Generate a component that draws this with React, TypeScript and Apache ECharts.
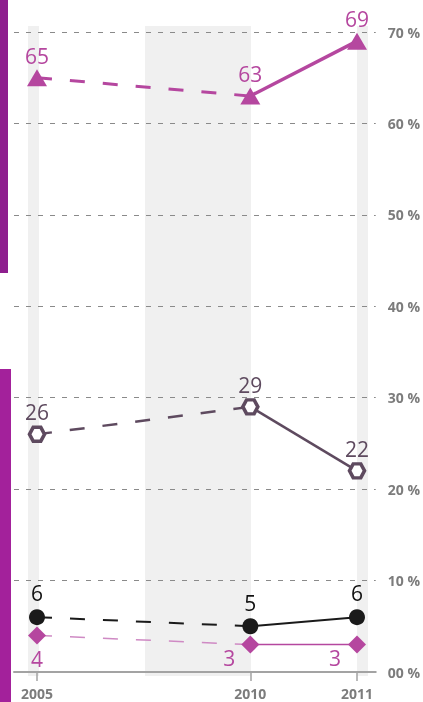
import React, { useEffect, useRef } from 'react';
import * as echarts from 'echarts';

// x slots: the blank slot is the unlabeled gap between 2005 and 2010
const yearSlots = ['2005', '', '2010', '2011'];
const pctMin = 0;
const pctMax = 70;
const pctStep = 10;

const triangleSeries = [65, 63, 69];
const hexagonSeries = [26, 29, 22];
const circleSeries = [6, 5, 6];
const diamondSeries = [4, 3, 3];

const toDashed = (v: number[]) => [v[0], '-', v[1], '-'];
const toSolid = (v: number[]) => ['-', '-', v[1], v[2]];
const toPoints = (v: number[]) => [v[0], '-', v[1], v[2]];

export default function App() {
  const ref = useRef<HTMLDivElement>(null);

  useEffect(() => {
    const chart = echarts.init(ref.current!, null, { renderer: 'svg' });
    const font = "'Open Sans', 'Noto Sans', sans-serif";
    const dash = [15, 18];
    const hex = 'path://M1,0 L3,0 L4,1.732 L3,3.464 L1,3.464 L0,1.732 Z';

    const lines = (vals: number[], color: string, width: number, dashColor: string, dashWidth: number) => [
      {
        type: 'line', xAxisIndex: 1, yAxisIndex: 1, data: toDashed(vals), connectNulls: true,
        symbol: 'none', lineStyle: { color: dashColor, width: dashWidth, type: dash }, z: 3,
      },
      {
        type: 'line', xAxisIndex: 1, yAxisIndex: 1, data: toSolid(vals),
        symbol: 'none', lineStyle: { color, width }, z: 3,
      },
    ];

    const points = (vals: number[], symbol: string, size: any, itemStyle: any, labelColor: string, offsets: number[][]) => ({
      type: 'scatter', xAxisIndex: 1, yAxisIndex: 1, symbol, symbolSize: size,
      itemStyle: { opacity: 1, ...itemStyle }, z: 5,
      data: toPoints(vals).map((v, i) => {
        if (v === '-') return '-';
        const k = i === 0 ? 0 : i - 1;
        return {
          value: v,
          label: {
            show: true, position: 'inside', offset: offsets[k], formatter: String(v),
            color: labelColor, fontSize: 21, fontWeight: 500, fontFamily: font,
          },
        };
      }),
    });

    const bandY = 26;
    const bandH = 650;
    const option: any = {
      animation: false,
      graphic: [
        { type: 'rect', z: -1, shape: { x: 28, y: bandY, width: 11, height: bandH }, style: { fill: '#f0f0f0' } },
        { type: 'rect', z: -1, shape: { x: 145, y: bandY, width: 106, height: bandH }, style: { fill: '#f0f0f0' } },
        { type: 'rect', z: -1, shape: { x: 357, y: bandY, width: 11, height: bandH }, style: { fill: '#f0f0f0' } },
        { type: 'rect', z: 10, shape: { x: 0, y: 0, width: 8, height: 273 }, style: { fill: '#8e1f8e' } },
        { type: 'rect', z: 10, shape: { x: 0, y: 369, width: 11, height: 333 }, style: { fill: '#a3219b' } },
      ],
      grid: [
        { left: 14, right: 46, top: 32, bottom: 30 },
        { left: 37, right: 66, top: 32, bottom: 30 },
      ],
      xAxis: [
        {
          type: 'value', gridIndex: 0, min: 0, max: 1,
          axisLine: { show: true, onZero: false, lineStyle: { color: '#a3a3a3', width: 2 } },
          axisTick: { show: false }, axisLabel: { show: false }, splitLine: { show: false },
        },
        {
          type: 'category', gridIndex: 1, data: yearSlots, boundaryGap: false,
          axisLine: { show: false },
          axisTick: {
            show: true, interval: (_i: number, v: string) => v !== '', length: 9,
            lineStyle: { color: '#a3a3a3', width: 1.5 },
          },
          axisLabel: {
            interval: (_i: number, v: string) => v !== '', margin: 14,
            color: '#7c7c7c', fontWeight: 'bold', fontSize: 14, fontFamily: font,
          },
        },
      ],
      yAxis: [
        {
          type: 'value', gridIndex: 0, position: 'right', min: pctMin, max: pctMax, interval: pctStep,
          axisLine: { show: false }, axisTick: { show: false },
          splitLine: { show: true, lineStyle: { color: '#8a8a8a', width: 1, type: [5, 7] } },
          axisLabel: {
            margin: 12, color: '#7c7c7c', fontWeight: 'bold', fontSize: 14, fontFamily: font,
            formatter: (v: number) => (v === 0 ? '00 %' : v + ' %'),
          },
        },
        { type: 'value', gridIndex: 1, min: pctMin, max: pctMax, show: false },
      ],
      series: [
        ...lines(triangleSeries, '#b5479f', 3.5, '#b5479f', 3),
        ...lines(hexagonSeries, '#5e4a5f', 2.5, '#5e4a5f', 2.5),
        ...lines(circleSeries, '#1a1a1a', 2, '#1a1a1a', 2),
        ...lines(diamondSeries, '#b5479f', 1.5, '#cf8ac4', 1.5),
        points(triangleSeries, 'triangle', [20, 17], { color: '#b5479f' }, '#b5479f',
          [[0, -22], [0, -22], [0, -22]]),
        points(hexagonSeries, hex, [15, 14], { color: '#ffffff', borderColor: '#5e4a5f', borderWidth: 3.5 }, '#5e4a5f',
          [[0, -22], [0, -22], [0, -22]]),
        points(circleSeries, 'circle', 16, { color: '#1a1a1a' }, '#111111',
          [[0, -24], [0, -23], [0, -24]]),
        points(diamondSeries, 'diamond', 18, { color: '#b5479f' }, '#b5479f',
          [[0, 24], [-21, 13], [-22, 13]]),
      ],
    };
    chart.setOption(option);
    return () => chart.dispose();
  }, []);

  return <div ref={ref} style={{ position: 'fixed', left: 0, top: 0, width: 423, height: 702 }} />;
}
